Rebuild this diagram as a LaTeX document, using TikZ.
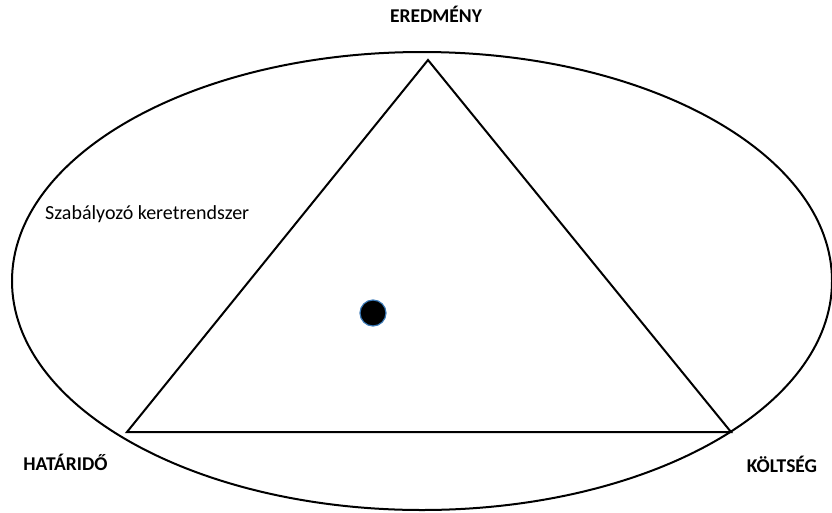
\documentclass[tikz,border=0pt]{standalone}
\usepackage{fontspec}
\setmainfont{Carlito}
\definecolor{dotedge}{HTML}{3A78B5}
\begin{document}
\begin{tikzpicture}[x=1pt,y=-1pt,
  outline/.style={draw=black,line width=2pt},
  corner/.style={font=\bfseries\fontsize{19.5}{22}\selectfont,inner sep=0pt,anchor=base},
  dot/.style={circle,fill=black,draw=dotedge,line width=1.2pt,minimum width=26pt,minimum height=25pt,inner sep=0pt}]
\useasboundingbox (0,0) rectangle (832,512);
\draw[outline] (422,281) ellipse [x radius=410, y radius=229];
\coordinate (A) at (428,60);
\coordinate (B) at (127,432);
\coordinate (C) at (731,432);
\draw[outline,line join=miter] (A) -- (B) -- (C) -- cycle;
\node[dot] (d) at (373,313) {};
\node[corner] (e) at (436,22.5) {EREDMÉNY};
\node[corner] (h) at (65.5,470) {HATÁRIDŐ};
\node[corner] (k) at (782,472) {KÖLTSÉG};
\node[anchor=base west,inner sep=0pt,font=\fontsize{20}{22}\selectfont] (s) at (45,219) {Szabályozó keretrendszer};
\end{tikzpicture}
\end{document}
